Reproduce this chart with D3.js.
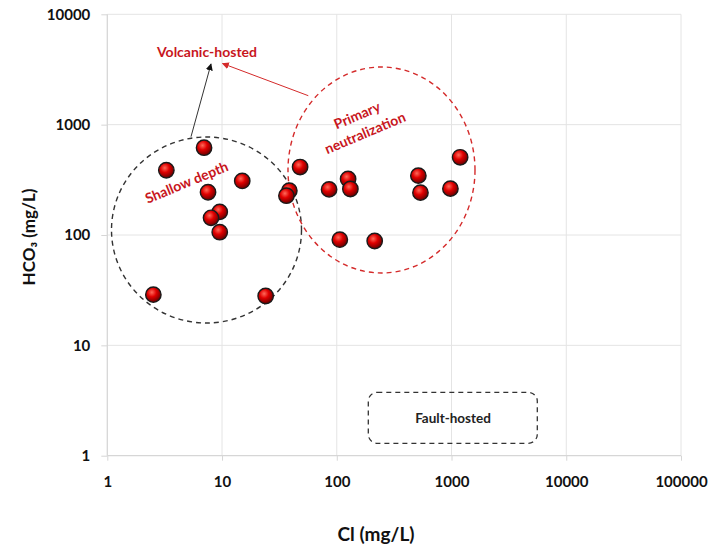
<!DOCTYPE html>
<html>
<head>
<meta charset="utf-8">
<script src="https://cdn.jsdelivr.net/npm/d3@7"></script>
<style>
body { margin: 0; background: #fff; }
svg { font-family: Lato, "Open Sans", sans-serif; }
</style>
</head>
<body>
<div id="chart"></div>
<script>
// Cl vs HCO3 samples (mg/L)
const clValues = [3.27, 6.97, 7.55, 15.0, 9.55, 8.02, 9.55, 38.6, 36.4, 47.9, 85.7, 125.5, 131.4, 106.3, 214, 514, 536, 978, 1189, 2.52, 24.0]
const hco3Values = [386, 618, 244, 309, 162, 143, 106, 252, 227, 413, 259, 322, 261, 90.7, 88.2, 345, 242, 263, 506, 28.8, 28.0]
const xTicks = [1, 10, 100, 1000, 10000, 100000]
const yTicks = [1, 10, 100, 1000, 10000]

width = 710
height = 546

const x = d3.scaleLog().domain([1, 100000]).range([107.3, 681])
const y = d3.scaleLog().domain([1, 10000]).range([455.7, 14.3])

const svg = d3.select("#chart").append("svg")
	.attr("width", width)
	.attr("height", height)

const defs = svg.append("defs")
const grad = defs.append("radialGradient")
	.attr("id", "ball")
	.attr("cx", "40%").attr("cy", "35%").attr("r", "65%")
grad.append("stop").attr("offset", "0%").attr("stop-color", "#ff6a5a")
grad.append("stop").attr("offset", "45%").attr("stop-color", "#e00000")
grad.append("stop").attr("offset", "100%").attr("stop-color", "#6a0000")

function marker(id, color) {
	defs.append("marker")
		.attr("id", id)
		.attr("viewBox", "0 0 10 10")
		.attr("refX", 9).attr("refY", 5)
		.attr("markerWidth", 7).attr("markerHeight", 7)
		.attr("markerUnits", "userSpaceOnUse")
		.attr("orient", "auto")
		.append("path")
		.attr("d", "M0,0 L10,5 L0,10 z")
		.attr("fill", color)
}
marker("arrBlack", "#111")
marker("arrRed", "#d42a2a")

// grid
svg.append("g").selectAll("line")
	.data(xTicks.slice(1))
	.join("line")
	.attr("x1", d => x(d)).attr("x2", d => x(d))
	.attr("y1", y(10000)).attr("y2", y(1))
	.attr("stroke", "#e4e4e4")
svg.append("g").selectAll("line")
	.data(yTicks.slice(1))
	.join("line")
	.attr("x1", x(1)).attr("x2", x(100000))
	.attr("y1", d => y(d)).attr("y2", d => y(d))
	.attr("stroke", "#e4e4e4")

// axes
const xAxis = svg.append("g")
	.attr("transform", `translate(0,${y(1)})`)
	.call(d3.axisBottom(x).tickValues(xTicks).tickFormat(d3.format("d")).tickSize(5).tickPadding(16))
const yAxis = svg.append("g")
	.attr("transform", `translate(${x(1)},0)`)
	.call(d3.axisLeft(y).tickValues(yTicks).tickFormat(d3.format("d")).tickSize(6).tickPadding(11))

for (const ax of [xAxis, yAxis]) {
	ax.select(".domain").attr("stroke", "#d6d6d6").attr("stroke-width", 1.3)
	ax.selectAll(".tick line").attr("stroke", "#d6d6d6")
	ax.selectAll(".tick text")
		.attr("fill", "#111")
		.attr("font-size", 15)
		.attr("font-weight", "bold")
		.attr("font-family", "Lato, sans-serif")
}
yAxis.select(".domain").attr("d", `M0,${y(10000)}V${y(1)}`)
xAxis.select(".domain").attr("d", `M${x(1)},0H${x(100000)}`)

// axis titles
svg.append("text")
	.attr("x", 376).attr("y", 541)
	.attr("text-anchor", "middle")
	.attr("font-size", 19).attr("font-weight", "bold")
	.attr("fill", "#111")
	.text("Cl (mg/L)")
svg.append("text")
	.attr("transform", "translate(35,237) rotate(-90)")
	.attr("text-anchor", "middle")
	.attr("font-size", 17).attr("font-weight", "bold")
	.attr("fill", "#111")
	.text("HCO₃ (mg/L)")

// group outlines
const shapes = svg.append("g")
shapes.append("ellipse")
	.attr("cx", 206.5).attr("cy", 230).attr("rx", 95).attr("ry", 93)
	.attr("fill", "none").attr("stroke", "#333")
	.attr("stroke-width", 1.4).attr("stroke-dasharray", "5,4")
shapes.append("ellipse")
	.attr("cx", 381.5).attr("cy", 170).attr("rx", 93.5).attr("ry", 103)
	.attr("fill", "none").attr("stroke", "#d42a2a")
	.attr("stroke-width", 1.4).attr("stroke-dasharray", "5,4")
shapes.append("rect")
	.attr("x", 368.3).attr("y", 392.3).attr("width", 169).attr("height", 51)
	.attr("rx", 9)
	.attr("fill", "none").attr("stroke", "#333")
	.attr("stroke-width", 1.3).attr("stroke-dasharray", "5,4")

shapes.append("line")
	.attr("x1", 191).attr("y1", 136.7).attr("x2", 211).attr("y2", 64)
	.attr("stroke", "#333").attr("stroke-width", 1)
	.attr("marker-end", "url(#arrBlack)")
shapes.append("line")
	.attr("x1", 308.3).attr("y1", 95.7).attr("x2", 222.5).attr("y2", 63.5)
	.attr("stroke", "#d42a2a").attr("stroke-width", 1)
	.attr("marker-end", "url(#arrRed)")

// labels
const labels = svg.append("g")
	.attr("font-weight", "bold")
	.attr("font-size", 14)
	.attr("text-anchor", "middle")
labels.append("text")
	.attr("x", 207).attr("y", 57)
	.attr("fill", "#c8161d")
	.text("Volcanic-hosted")
labels.append("text")
	.attr("transform", "translate(188.5,187) rotate(-22.5)")
	.attr("fill", "#c8161d")
	.text("Shallow depth")
labels.append("text")
	.attr("transform", "translate(359,120) rotate(-23)")
	.attr("fill", "#c8161d")
	.text("Primary")
labels.append("text")
	.attr("transform", "translate(367,137.5) rotate(-23)")
	.attr("fill", "#c8161d")
	.text("neutralization")
labels.append("text")
	.attr("x", 453).attr("y", 422.5)
	.attr("fill", "#222")
	.attr("font-size", 13.5)
	.text("Fault-hosted")

// points
const pts = clValues.map((c, i) => ({cl: c, hco3: hco3Values[i]}))
svg.append("g").selectAll("circle")
	.data(pts)
	.join("circle")
	.attr("cx", d => x(d.cl))
	.attr("cy", d => y(d.hco3))
	.attr("r", 7.7)
	.attr("fill", "url(#ball)")
	.attr("stroke", "#1a1a1a")
	.attr("stroke-width", 1.4)
</script>
</body>
</html>
